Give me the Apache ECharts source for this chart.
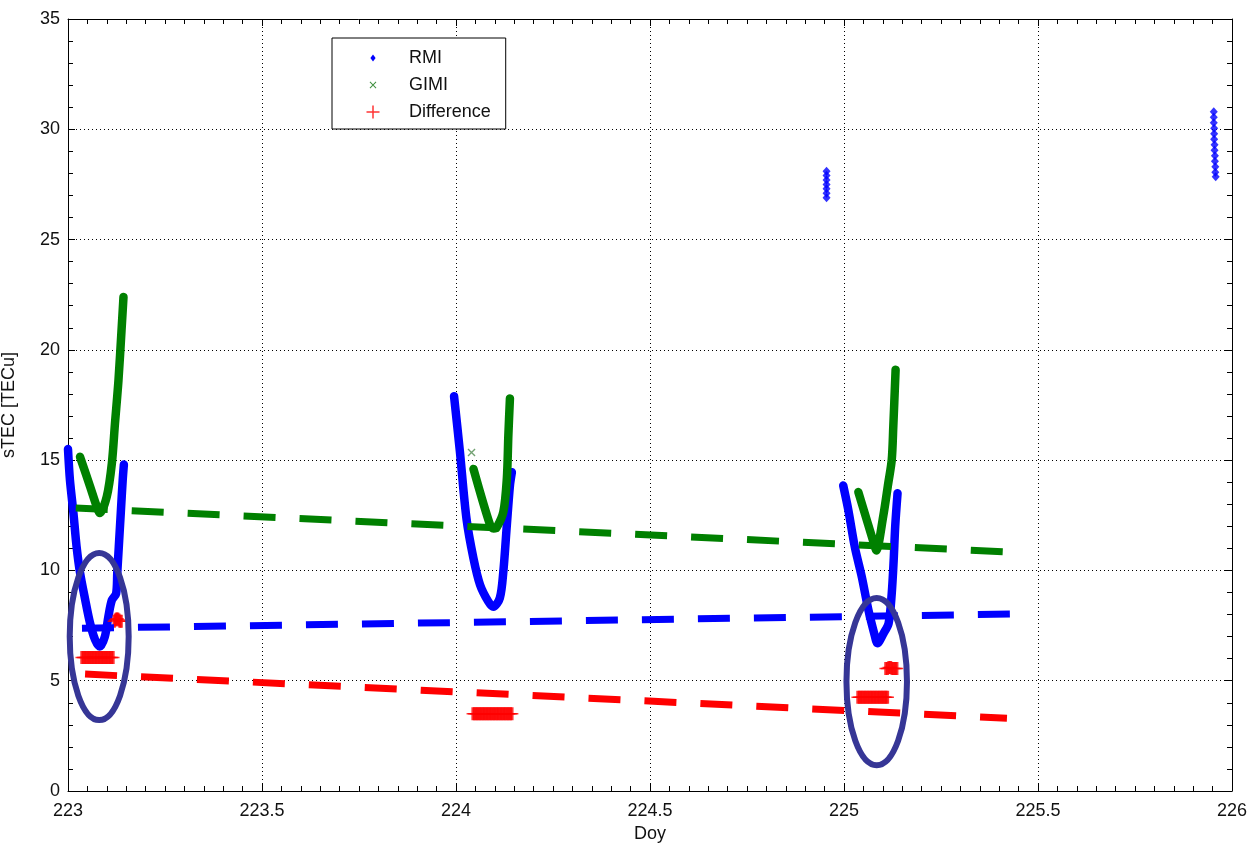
<!DOCTYPE html>
<html>
<head>
<meta charset="utf-8">
<title>sTEC RMI / GIMI</title>
<script src="https://cdn.jsdelivr.net/npm/echarts@6/dist/echarts.min.js"></script>
<style>
  html, body { margin: 0; padding: 0; background: #fff; }
  #chart { width: 1248px; height: 843px; }
</style>
</head>
<body>
<div id="chart"></div>
<script>
// Axis ranges (day of year, TECu)
const dayRange = [223, 226];
const tecRange = [0, 35];

// RMI slant TEC along each satellite pass [day, TECu]
const rmiPass1 = [[223.000,15.5],[223.005,14.1],[223.014,12.6],[223.022,11.1],[223.031,9.9],[223.044,8.7],[223.057,7.6],[223.070,6.85],[223.082,6.55],[223.095,7.0],[223.104,7.9],[223.113,8.65],[223.124,8.95],[223.127,9.9],[223.131,11.1],[223.136,12.6],[223.141,14.1],[223.144,14.8]];
const rmiPass2 = [[223.995,17.9],[224.010,15.4],[224.027,12.35],[224.045,10.55],[224.062,9.35],[224.083,8.6],[224.096,8.35],[224.113,8.75],[224.122,9.95],[224.131,12.05],[224.139,13.85],[224.144,14.45]];
const rmiPass3 = [[224.998,13.85],[225.011,12.75],[225.028,11.05],[225.046,9.7],[225.063,8.2],[225.080,7.0],[225.086,6.7],[225.102,7.15],[225.115,7.6],[225.123,8.95],[225.128,10.45],[225.132,12.0],[225.138,13.5]];
// short RMI arcs at high elevation
const rmiShort = [[224.955,28.1],[224.955,27.9],[224.955,27.7],[224.955,27.5],[224.955,27.3],[224.955,27.1],[224.955,26.9],
  [225.953,30.8],[225.953,30.55],[225.953,30.3],[225.954,30.05],[225.954,29.8],[225.954,29.55],[225.955,29.3],[225.955,29.05],[225.956,28.8],[225.956,28.55],[225.957,28.3],[225.957,28.05],[225.958,27.85]];

// GIMI slant TEC [day, TECu]
const gimiPass1 = [[223.031,15.15],[223.057,13.8],[223.074,12.9],[223.082,12.6],[223.100,13.35],[223.113,14.85],[223.121,16.65],[223.130,18.6],[223.138,20.9],[223.143,22.4]];
const gimiPass2 = [[224.045,14.6],[224.088,12.05],[224.097,11.9],[224.105,11.95],[224.122,12.65],[224.131,14.15],[224.135,16.15],[224.139,17.8]];
const gimiPass3 = [[225.037,13.55],[225.080,11.05],[225.083,10.9],[225.101,12.45],[225.114,13.95],[225.123,15.0],[225.127,16.5],[225.133,19.1]];
const gimiStray = [[224.040,15.35]];

// Difference RMI - GIMI [day, TECu]
const diffValues = [
  [223.036,6.05],[223.040,6.05],[223.044,6.05],[223.048,6.05],[223.052,6.05],[223.056,6.05],[223.060,6.05],[223.064,6.05],[223.068,6.05],[223.072,6.05],[223.076,6.05],[223.080,6.05],[223.084,6.05],[223.088,6.05],[223.092,6.05],[223.096,6.05],[223.100,6.05],[223.104,6.05],[223.108,6.05],[223.112,6.05],[223.116,6.05],
  [223.119,7.7],[223.122,7.75],[223.125,7.8],[223.128,7.8],[223.131,7.75],[223.134,7.7],[223.137,7.7],
  [224.044,3.5],[224.048,3.5],[224.052,3.5],[224.056,3.5],[224.060,3.5],[224.064,3.5],[224.068,3.5],[224.072,3.5],[224.076,3.5],[224.080,3.5],[224.084,3.5],[224.088,3.5],[224.092,3.5],[224.096,3.5],[224.100,3.5],[224.104,3.5],[224.108,3.5],[224.112,3.5],[224.116,3.5],[224.120,3.5],[224.124,3.5],[224.128,3.5],[224.132,3.5],[224.136,3.5],[224.140,3.5],[224.144,3.5],
  [225.036,4.25],[225.040,4.25],[225.044,4.25],[225.048,4.25],[225.052,4.25],[225.056,4.25],[225.060,4.25],[225.064,4.25],[225.068,4.25],[225.072,4.25],[225.076,4.25],[225.080,4.25],[225.084,4.25],[225.088,4.25],[225.092,4.25],[225.096,4.25],[225.100,4.25],[225.104,4.25],[225.108,4.25],[225.112,4.25],
  [225.108,5.55],[225.112,5.55],[225.116,5.6],[225.120,5.6],[225.124,5.55],[225.128,5.55],[225.132,5.55],[225.136,5.55]
];

// Trend lines [day, TECu]
const gimiTrend = [[223.02,12.83],[225.41,10.85]];
const rmiTrend = [[223.036,7.38],[225.43,8.02]];
const diffTrend = [[223.044,5.3],[225.42,3.3]];

// Highlighted regions: [centre day, centre TECu, half-width in days, half-height in TECu]
const highlights = [[223.0804,7.0,0.076,3.785],[225.0843,4.955,0.078,3.79]];

const BLUE = '#0000ff', GREEN = '#008000', RED = '#ff0000', RING = '#363696';
const FONT = "'Liberation Sans', Arial, Helvetica, sans-serif";

const plusPath = 'path://M0,6.2H14V7.8H0ZM5.2,0H8.8V14H5.2Z';
const crossPath = 'path://M0,1.2L1.2,0L10,8.8L8.8,10ZM8.8,0L10,1.2L1.2,10L0,8.8Z';
const legendDiamond = 'path://M0,0M14,14M7,3.5L9.6,7L7,10.5L4.4,7Z';
const legendCross = 'path://M0,0M14,14M3.6,4.3L4.3,3.6L10.4,9.7L9.7,10.4ZM9.7,3.6L10.4,4.3L4.3,10.4L3.6,9.7Z';
const legendPlus = 'path://M0,0M14,14M0.5,6.25H13.5V7.75H0.5ZM6.25,0.5H7.75V13.5H6.25Z';

function curve(name, data, color) {
  return {
    name, type: 'line', data, symbol: 'none', z: 2,
    smooth: 0.3,
    itemStyle: { color },
    lineStyle: { color, width: 8.5, join: 'round', cap: 'round' },
    silent: true
  };
}
function trend(data, color) {
  return {
    type: 'line', data, symbol: 'none', z: 5, silent: true,
    lineStyle: { color, width: 7, type: [32, 24], cap: 'butt' }
  };
}

const axisText = { color: '#111', fontSize: 18, fontFamily: FONT };
const frameLine = { show: true, lineStyle: { color: '#000', width: 1 } };

function xAxisDef(position, main) {
  return {
    type: 'value', position, min: dayRange[0], max: dayRange[1], interval: 0.5,
    axisLine: Object.assign({ onZero: false }, frameLine),
    axisTick: { show: true, inside: true, length: 7, lineStyle: { color: '#000' } },
    minorTick: { show: true, splitNumber: 10, length: 5, lineStyle: { color: '#000' } },
    axisLabel: main ? Object.assign({ margin: 11 }, axisText) : { show: false },
    splitLine: main ? { show: true, lineStyle: { color: '#000', type: [1, 3], width: 1 } } : { show: false },
    name: main ? 'Doy' : '', nameLocation: 'middle', nameGap: 34,
    nameTextStyle: axisText
  };
}
function yAxisDef(position, main) {
  return {
    type: 'value', position, min: tecRange[0], max: tecRange[1], interval: 5,
    axisLine: Object.assign({ onZero: false }, frameLine),
    axisTick: { show: true, inside: true, length: 7, lineStyle: { color: '#000' } },
    minorTick: { show: true, splitNumber: 5, length: 5, lineStyle: { color: '#000' } },
    axisLabel: main ? Object.assign({ margin: 8 }, axisText) : { show: false },
    splitLine: main ? { show: true, lineStyle: { color: '#000', type: [1, 3], width: 1 } } : { show: false },
    name: main ? 'sTEC [TECu]' : '', nameLocation: 'middle', nameGap: 50,
    nameTextStyle: axisText
  };
}

const chart = echarts.init(document.getElementById('chart'), null, { renderer: 'canvas' });
chart.setOption({
  animation: false,
  backgroundColor: '#fff',
  grid: { left: 68, right: 16, top: 19, bottom: 52, containLabel: false, outerBoundsMode: 'none' },
  xAxis: [xAxisDef('bottom', true), xAxisDef('top', false)],
  yAxis: [yAxisDef('left', true), yAxisDef('right', false)],
  legend: {
    orient: 'vertical', left: 332, top: 38,
    padding: [11, 15, 8, 34], itemGap: 9,
    itemWidth: 14, itemHeight: 14,
    backgroundColor: '#fff', borderColor: '#000', borderWidth: 1, borderRadius: 0,
    textStyle: { color: '#111', fontSize: 18, fontFamily: FONT, lineHeight: 18, padding: [0, 0, 0, 24] },
    selectedMode: false,
    data: [
      { name: 'RMI', icon: legendDiamond, itemStyle: { color: BLUE } },
      { name: 'GIMI', icon: legendCross, itemStyle: { color: '#3f8f3f' } },
      { name: 'Difference', icon: legendPlus, itemStyle: { color: RED } }
    ]
  },
  series: [
    curve('RMI', rmiPass1, BLUE),
    curve('RMI', rmiPass2, BLUE),
    curve('RMI', rmiPass3, BLUE),
    { name: 'RMI', type: 'scatter', data: rmiShort, symbol: 'diamond', symbolSize: [8, 9], itemStyle: { color: BLUE }, z: 2, silent: true },
    curve('GIMI', gimiPass1, GREEN),
    curve('GIMI', gimiPass2, GREEN),
    curve('GIMI', gimiPass3, GREEN),
    { name: 'GIMI', type: 'scatter', data: gimiStray, symbol: crossPath, symbolSize: 8, itemStyle: { color: '#4f8a4f' }, z: 3, silent: true },
    { name: 'Difference', type: 'scatter', data: diffValues, symbol: plusPath, symbolSize: 13, itemStyle: { color: RED }, z: 4, silent: true },
    trend(gimiTrend, GREEN),
    trend(rmiTrend, BLUE),
    trend(diffTrend, RED),
    {
      type: 'custom', data: highlights, z: 10, silent: true,
      renderItem: function (params, api) {
        const c = api.coord([api.value(0), api.value(1)]);
        const s = api.size([api.value(2), api.value(3)]);
        return {
          type: 'ellipse',
          shape: { cx: c[0], cy: c[1], rx: s[0], ry: s[1] },
          style: { fill: 'none', stroke: RING, lineWidth: 6 }
        };
      }
    }
  ]
});
</script>
</body>
</html>
